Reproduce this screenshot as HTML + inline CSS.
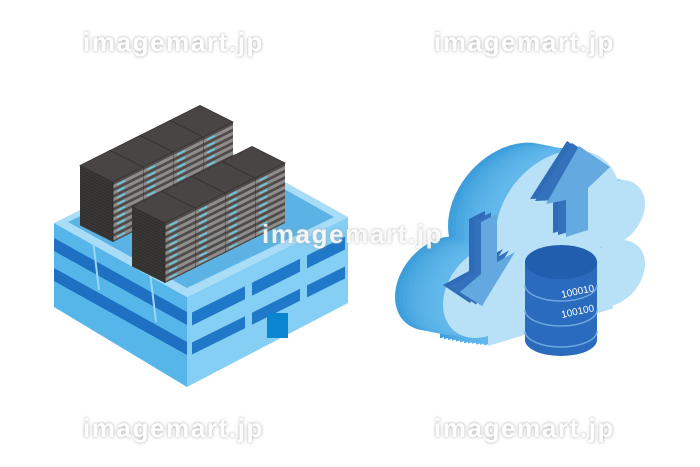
<!DOCTYPE html>
<html><head><meta charset="utf-8"><style>
html,body{margin:0;padding:0;background:#fff}
svg{display:block}
.wm{font-family:"Liberation Sans",sans-serif;font-weight:bold;font-size:26px;fill:#fff;letter-spacing:1.6px}
</style></head><body>
<svg width="700" height="467" viewBox="0 0 700 467" xmlns="http://www.w3.org/2000/svg">
<defs>
<pattern id="slots" width="40" height="6.5" patternUnits="userSpaceOnUse" patternTransform="skewY(-26.6)">
<rect width="40" height="6.5" fill="#4e4b4a"/>
<rect x="0" y="1.5" width="40" height="3.5" fill="#8e8c8b"/>
<rect x="4" y="2.5" width="8" height="1.5" fill="#5fd0f0"/>
</pattern>
<pattern id="lstripe" width="40" height="3" patternUnits="userSpaceOnUse" patternTransform="skewY(26.6)">
<rect width="40" height="3" fill="#3a3837"/>
<rect width="40" height="1" fill="#2f2d2c"/>
</pattern>
<g id="rack">
<polygon points="0,0 -33,-16.5 -33,-76.5 0,-60" fill="url(#lstripe)"/>
<polygon points="0,0 30,-15 30,-75 0,-60" fill="url(#slots)"/>
<polygon points="0,-60 -33,-76.5 -3,-91.5 30,-75" fill="#484544" stroke="#353332" stroke-width="0.8"/>
<polyline points="0,0 0,-60" stroke="#2a2828" stroke-width="0.8"/>
</g>
<g id="cloud">
<circle cx="40" cy="-55" r="45"/>
<circle cx="110" cy="-110" r="62"/>
<circle cx="165" cy="-95" r="32"/>
<rect x="40" y="-60" width="125" height="60"/>
<circle cx="165" cy="-35" r="32"/>
</g>
<filter id="sh" x="-10%" y="-30%" width="120%" height="160%"><feDropShadow dx="0" dy="0" stdDeviation="1.6" flood-color="#9a9a9a" flood-opacity="0.9"/></filter>
</defs>

<polygon points="54,223 187,297 187,387 54,307" fill="#56b6ea"/>
<polygon points="187,297 348,217 348,303 187,387" fill="#86cff4"/>
<polygon points="54,238 187,312 187,325 54,251" fill="#1d70c2"/>
<polygon points="54,268 187,342 187,355 54,281" fill="#1d70c2"/>
<line x1="93" y1="240" x2="99" y2="290" stroke="#9ad6f5" stroke-width="2"/>
<line x1="150" y1="272" x2="156" y2="322" stroke="#9ad6f5" stroke-width="2"/>
<g fill="#1f78c8">
<polygon points="192,312.5 245,286.2 245,299.2 192,325.5"/>
<polygon points="252,282.7 300,258.8 300,271.8 252,295.7"/>
<polygon points="307,255.4 345,236.5 345,249.5 307,268.4"/>
<polygon points="192,342.5 245,316.2 245,328.2 192,354.5"/>
<polygon points="252,312.7 300,288.8 300,300.8 252,324.7"/>
<polygon points="307,285.4 345,266.5 345,278.5 307,297.4"/>
</g>
<rect x="267" y="313" width="21" height="25" fill="#0a86d0"/>
<polygon points="54,223 187,297 348,217 215,143" fill="#a9dcf6"/>
<polygon points="68,222 187,288 334,217 215,150" fill="#5ab3e4"/>

<use href="#rack" x="203" y="197"/>
<use href="#rack" x="173" y="212"/>
<use href="#rack" x="143" y="227"/>
<use href="#rack" x="113" y="242"/>
<use href="#rack" x="255" y="238"/>
<use href="#rack" x="225" y="253"/>
<use href="#rack" x="195" y="268"/>
<use href="#rack" x="165" y="283"/>

<g transform="translate(448,358) matrix(1,-0.3,0,1,0,0)">
<use href="#cloud" x="-48" y="-22" fill="#3d9edb"/>
<use href="#cloud" x="-44" y="-20" fill="#42a2dd"/>
<use href="#cloud" x="-40" y="-18" fill="#48a6e0"/>
<use href="#cloud" x="-36" y="-16" fill="#4da9e2"/>
<use href="#cloud" x="-32" y="-14" fill="#52ade4"/>
<use href="#cloud" x="-28" y="-12" fill="#55afe5"/>
<use href="#cloud" x="-24" y="-10" fill="#58b1e7"/>
<use href="#cloud" x="-20" y="-8.5" fill="#5ab3e8"/>
<use href="#cloud" x="-16" y="-7" fill="#5db5e9"/>
<use href="#cloud" x="-12" y="-5" fill="#5fb6e9"/>
<use href="#cloud" x="-8" y="-3.5" fill="#62b8ea"/>
<use href="#cloud" x="-4" y="-1.7" fill="#62b8ea"/>
<use href="#cloud" x="0" y="0" fill="#b8e1f8"/>
</g>

<g transform="translate(-12,-3)" fill="#2f6cb8">
<polygon points="481,222 497,214 497,262 515,252 482,306 455,288 481,274"/>
</g>
<g transform="translate(-6,-1.5)" fill="#3470bc">
<polygon points="481,222 497,214 497,262 515,252 482,306 455,288 481,274"/>
</g>
<polygon points="481,222 497,214 497,262 515,252 482,306 460,292 481,274" fill="#63a9e0"/>

<g transform="translate(-10,-4)" fill="#2f6cb8">
<polygon points="577,145 610,167 588,188 588,230 563,237 563,202 540,203"/>
</g>
<g transform="translate(-5,-2)" fill="#3470bc">
<polygon points="577,145 610,167 588,188 588,230 563,237 563,202 540,203"/>
</g>
<polygon points="579,146 610,167 588,188 588,230 566,237 566,200 546,204" fill="#64a9e0"/>

<path d="M525,262 L525,340 A36,16 0 0 0 597,340 L597,262 Z" fill="#2a6bbd"/>
<path d="M525,285 A36,16 0 0 0 597,285" fill="none" stroke="#6ea6de" stroke-width="1.5"/>
<path d="M525,310 A36,16 0 0 0 597,310" fill="none" stroke="#6ea6de" stroke-width="1.5"/>
<path d="M525,331 A36,16 0 0 0 597,331" fill="none" stroke="#6ea6de" stroke-width="1.5"/>
<ellipse cx="561" cy="262" rx="36" ry="17" fill="#1f5fae"/>
<text x="562" y="298" transform="rotate(-12 562 298)" font-family="Liberation Sans,sans-serif" font-size="10" fill="#fff">100010</text>
<text x="562" y="318" transform="rotate(-12 562 318)" font-family="Liberation Sans,sans-serif" font-size="10" fill="#fff">100100</text>

<g filter="url(#sh)">
<text class="wm" x="83" y="51">imagemart.jp</text>
<text class="wm" x="434" y="51">imagemart.jp</text>
<text class="wm" x="262" y="243" opacity="0.85">imagemart.jp</text>
<text class="wm" x="83" y="437">imagemart.jp</text>
<text class="wm" x="434" y="437">imagemart.jp</text>
</g>
</svg>
</body></html>
